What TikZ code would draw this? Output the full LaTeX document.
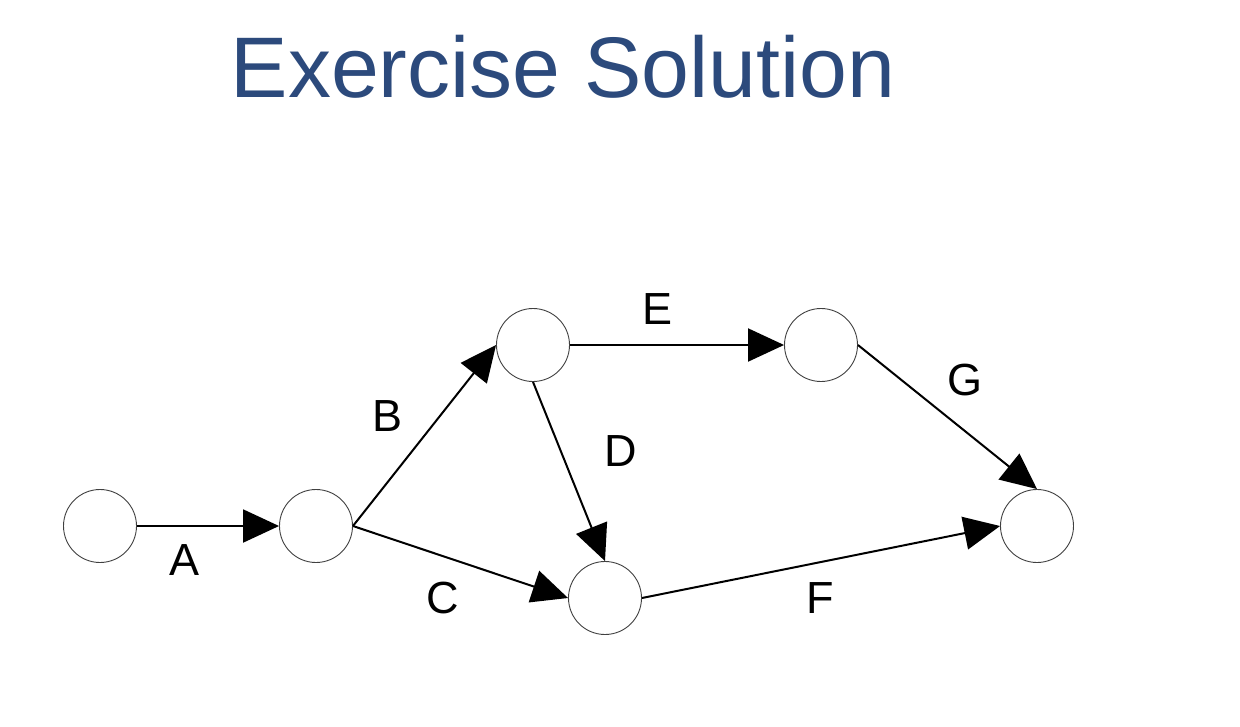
\documentclass[tikz,border=0pt]{standalone}
\usepackage{fontspec}
\setmainfont{Liberation Sans}
\usetikzlibrary{arrows.meta}
\definecolor{titleblue}{HTML}{2C4A7C}
\begin{document}
\begin{tikzpicture}[x=1pt,y=-1pt,
  ev/.style={circle,draw=black!75,line width=0.9pt,fill=white,minimum size=73pt,inner sep=0pt},
  act/.style={line width=2pt,-{Triangle[length=36pt,width=33pt]}},
  lbl/.style={font=\fontsize{45}{50}\selectfont,inner sep=0pt,anchor=center}]
\useasboundingbox (0,0) rectangle (1240,726);
\node[font=\fontsize{86}{95}\selectfont,text=titleblue,anchor=base] (title) at (563,97) {Exercise Solution};
\node[ev] (n1) at (100,526) {};
\node[ev] (n2) at (316,526) {};
\node[ev] (n3) at (533,345) {};
\node[ev] (n4) at (821,345) {};
\node[ev] (n5) at (605,598) {};
\node[ev] (n6) at (1037,526) {};
\draw[act] (n1.east) -- (n2.west);
\draw[act] (n2.east) -- (n3.west);
\draw[act] (n2.east) -- (n5.west);
\draw[act] (n3.east) -- (n4.west);
\draw[act] (n3.south) -- (n5.north);
\draw[act] (n4.east) -- (n6.north);
\draw[act] (n5.east) -- (n6.west);
\node[lbl] (lA) at (185,560) {A};
\node[lbl] (lB) at (388,416) {B};
\node[lbl] (lC) at (443,598) {C};
\node[lbl] (lD) at (621,451) {D};
\node[lbl] (lE) at (658,309) {E};
\node[lbl] (lF) at (820,598) {F};
\node[lbl] (lG) at (965,380) {G};
\end{tikzpicture}
\end{document}
